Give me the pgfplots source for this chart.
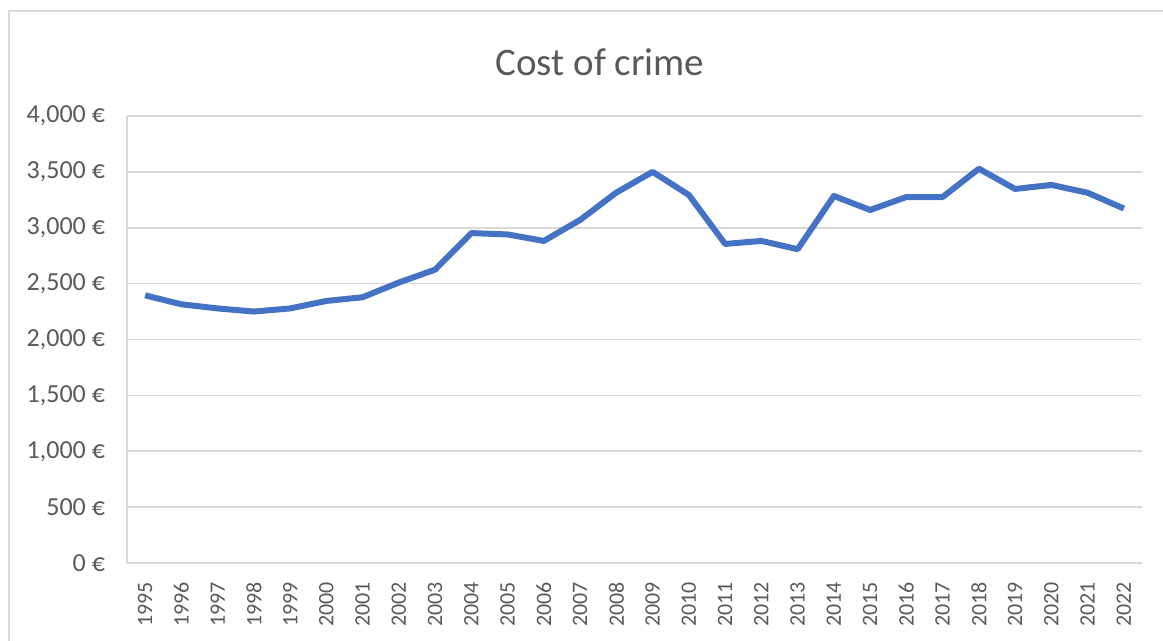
\documentclass[border=0pt]{standalone}
\usepackage{pgfplots}
\pgfplotsset{compat=1.18}
\usepackage{fontspec}
\setmainfont{Carlito}
\definecolor{excelblue}{HTML}{4472C4}
\definecolor{txtgray}{HTML}{595959}
\definecolor{gridgray}{HTML}{D9D9D9}
\begin{document}
\begin{tikzpicture}
\useasboundingbox (-63.5pt,-39pt) rectangle (518pt,281.5pt);
\draw[gridgray, line width=0.8pt] (-59pt,-60pt) rectangle (530pt,276pt);
\begin{axis}[
  scale only axis, width=507.5pt, height=223.5pt,
  at={(0,0)}, anchor=south west,
  xmin=1994.5, xmax=2022.5, ymin=0, ymax=4000,
  xtick={1995,1996,1997,1998,1999,2000,2001,2002,2003,2004,2005,2006,2007,2008,2009,2010,2011,2012,2013,2014,2015,2016,2017,2018,2019,2020,2021,2022},
  xticklabels={1995,1996,1997,1998,1999,2000,2001,2002,2003,2004,2005,2006,2007,2008,2009,2010,2011,2012,2013,2014,2015,2016,2017,2018,2019,2020,2021,2022},
  ytick={0,500,1000,1500,2000,2500,3000,3500,4000},
  yticklabel={\pgfmathprintnumber[fixed,precision=0,1000 sep={,}]{\tick}\ €},
  /pgf/number format/assume math mode=true,
  ymajorgrids, grid style={gridgray, line width=0.8pt},
  axis x line*=bottom, axis y line*=left,
  axis line style={gridgray, line width=0.8pt},
  major tick length=0pt,
  yticklabel style={font=\fontsize{13}{15}\selectfont, text=txtgray, xshift=-7.5pt},
  xticklabel style={font=\fontsize{11}{13}\selectfont, text=txtgray, yshift=-6pt, rotate=90, anchor=east},
  every axis title/.style={at={(0.466,1)}, anchor=center, yshift=27pt, font=\fontsize{19.5}{23}\selectfont, text=txtgray},
  title={Cost of crime},
]
\addplot[excelblue, line width=3pt, line join=round] coordinates {
(1995,2395) (1996,2315) (1997,2278) (1998,2250) (1999,2278) (2000,2345)
(2001,2378) (2002,2510) (2003,2625) (2004,2952) (2005,2940) (2006,2882)
(2007,3070) (2008,3315) (2009,3500) (2010,3293) (2011,2855) (2012,2882)
(2013,2808) (2014,3284) (2015,3159) (2016,3275) (2017,3275) (2018,3528)
(2019,3347) (2020,3383) (2021,3313) (2022,3172)
};
\end{axis}
\end{tikzpicture}
\end{document}
